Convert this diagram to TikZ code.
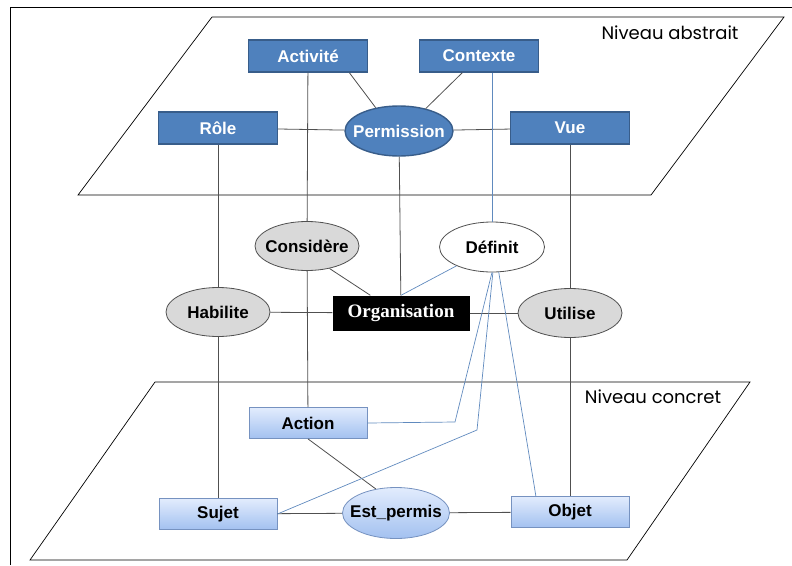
\documentclass[tikz,border=0pt]{standalone}
\usepackage{fontspec}
\setmainfont{Liberation Sans}
\newfontfamily\orgfont{Liberation Serif}
\newfontfamily\levelfont{Poppins}
\usetikzlibrary{shapes.geometric, positioning}
\definecolor{ablue}{RGB}{79,129,189}
\definecolor{abluedark}{RGB}{56,93,138}
\definecolor{clighttop}{RGB}{226,236,253}
\definecolor{clightbot}{RGB}{163,193,240}
\definecolor{clightline}{RGB}{118,146,192}
\definecolor{relgray}{RGB}{217,217,217}
\definecolor{linkgray}{RGB}{80,80,80}
\definecolor{deflink}{RGB}{96,138,190}
\tikzset{
x=1pt, y=-1pt, % one unit is one pixel of the sketch, y runs downwards
every node/.style={inner sep=0pt, font=\fontsize{17}{20}\selectfont\bfseries}, % bold labels
every ellipse node/.style={inner xsep=-9pt}, % keeps the ellipses as narrow as in the sketch
abstractbox/.style={rectangle, fill=ablue, draw=abluedark, line width=1.4pt, text=white, minimum width=119pt, minimum height=32pt}, % top level entities
abstractrel/.style={ellipse, fill=ablue, draw=abluedark, line width=1.4pt, text=white, minimum width=108pt, minimum height=50pt},
concretebox/.style={rectangle, top color=clighttop, bottom color=clightbot, draw=clightline, line width=0.8pt, minimum width=118pt, minimum height=31pt}, % bottom level entities
concreterel/.style={ellipse, top color=clighttop, bottom color=clightbot, draw=clightline, line width=0.8pt, minimum width=107pt, minimum height=51pt},
linkrel/.style={ellipse, fill=relgray, draw=linkgray, line width=0.8pt, minimum width=104pt, minimum height=49pt}, % relations between levels
defrel/.style={ellipse, fill=white, draw=linkgray, line width=0.8pt, minimum width=105pt, minimum height=50pt},
orgbox/.style={rectangle, fill=black, text=white, font=\fontsize{19}{21}\selectfont\orgfont\bfseries, minimum width=137pt, minimum height=35pt},
levellabel/.style={font=\fontsize{18}{21}\selectfont\levelfont},
plane/.style={draw=black, line width=0.7pt},
link/.style={draw=linkgray, line width=0.8pt},
deflinkstyle/.style={draw=deflink, line width=0.7pt},
}

\begin{document}
\begin{tikzpicture}
  \useasboundingbox (0,0) rectangle (792,565);
  \draw[line width=0.8pt] (10,565) |- (792,7);

  % the two levels
  \draw[plane] (212,17) -- (784,17) -- (651,195) -- (78,195) -- cycle;
  \draw[plane] (155,382) -- (750,382) -- (627,560) -- (30,560) -- cycle;
  \node[levellabel] (abstrlabel) at (670,33) {Niveau abstrait};
  \node[levellabel] (concrlabel) at (653,397) {Niveau concret};

  % abstract level
  \node[abstractbox] (activite) at (308,56) {Activité};
  \node[abstractbox] (contexte) at (479,56) {Contexte};
  \node[abstractbox] (role) at (218,128) {Rôle};
  \node[abstractbox] (vue) at (570,128) {Vue};
  \node[abstractrel] (permission) at (399,131) {Permission};

  % between the levels
  \node[linkrel] (considere) at (307,246) {Considère};
  \node[defrel] (definit) at (492,247) {Définit};
  \node[linkrel] (habilite) at (218,312) {Habilite};
  \node[linkrel] (utilise) at (570,313) {Utilise};
  \node[orgbox] (organisation) at (401,313) {Organisation};

  % concrete level
  \node[concretebox] (action) at (308,423) {Action};
  \node[concretebox] (sujet) at (218,514) {Sujet};
  \node[concretebox] (objet) at (570,512) {Objet};
  \node[concreterel] (estpermis) at (396,513) {Est\_permis};

  \coordinate (bendaction) at (455,422);
  \coordinate (bendsujet) at (477,430);

  \draw[link] (role) edge (permission)
  (permission) edge (vue)
  (activite.-22) edge (permission.135)
  (contexte.-135) edge (permission.40)
  (role) edge (habilite)
  (habilite) edge (sujet)
  (activite) edge (considere)
  (considere) edge (action)
  (permission) edge (organisation)
  (vue) edge (utilise)
  (utilise) edge (objet)
  (considere.-45) edge (organisation.150)
  (habilite) edge (organisation)
  (organisation) edge (utilise)
  (action.south) edge (estpermis.130)
  (sujet) edge (estpermis)
  (estpermis) edge (objet);

  \draw[deflinkstyle] (definit) -- (definit |- contexte.south);
  \draw[deflinkstyle] (definit) -- (organisation.north);
  \draw[deflinkstyle] (definit.south) -- (bendaction) -- (action.east);
  \draw[deflinkstyle] (definit.-88) -- (bendsujet) -- (sujet.east);
  \draw[deflinkstyle] (definit.-75) -- (objet.155);
\end{tikzpicture}
\end{document}
